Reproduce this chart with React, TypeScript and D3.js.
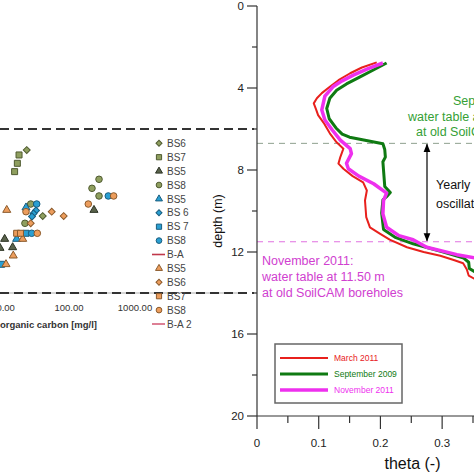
import React from "react";
import * as d3 from "d3";

// ---------- Right panel: soil moisture profiles (theta vs depth) ----------
const march2011: [number, number][] = [
  [0.194, 2.75], [0.170, 3.0], [0.151, 3.28], [0.132, 3.62], [0.118, 3.94], [0.105, 4.25],
  [0.097, 4.5], [0.092, 4.75], [0.096, 5.07], [0.099, 5.32], [0.108, 5.7], [0.118, 6.21],
  [0.129, 6.65], [0.140, 6.96], [0.135, 7.37], [0.132, 7.69], [0.140, 7.94], [0.155, 8.3],
  [0.172, 8.6], [0.178, 9.0], [0.175, 9.49], [0.177, 10.3], [0.183, 10.8], [0.199, 11.1],
  [0.215, 11.4], [0.243, 11.77], [0.270, 12.0], [0.297, 12.18], [0.320, 12.4], [0.334, 12.55],
  [0.340, 12.85], [0.343, 13.15], [0.352, 13.3], [0.40, 13.3],
];
const september2009: [number, number][] = [
  [0.210, 2.78], [0.190, 3.1], [0.167, 3.46], [0.145, 3.8], [0.129, 4.11], [0.118, 4.5],
  [0.113, 5.0], [0.117, 5.5], [0.128, 5.95], [0.138, 6.25], [0.150, 6.4], [0.175, 6.55],
  [0.204, 6.72], [0.207, 7.0], [0.208, 7.37], [0.204, 7.6], [0.205, 8.0], [0.207, 8.8],
  [0.216, 9.1], [0.210, 9.3], [0.204, 9.46], [0.202, 10.1], [0.205, 10.9], [0.225, 11.3],
  [0.253, 11.6], [0.302, 12.0], [0.335, 12.3], [0.343, 12.5], [0.344, 12.8], [0.352, 12.95],
  [0.40, 12.95],
];
const november2011: [number, number][] = [
  [0.204, 2.78], [0.180, 3.05], [0.156, 3.37], [0.138, 3.65], [0.123, 3.94], [0.110, 4.4],
  [0.105, 5.07], [0.110, 5.56], [0.122, 6.05], [0.135, 6.54], [0.151, 6.96], [0.153, 7.2],
  [0.145, 7.67], [0.148, 7.94], [0.165, 8.3], [0.189, 8.67], [0.210, 9.13], [0.205, 9.49],
  [0.204, 10.14], [0.210, 10.79], [0.230, 11.2], [0.253, 11.4], [0.275, 11.77], [0.324, 12.13],
  [0.355, 12.3], [0.40, 12.4],
];
const depthMajorTicks = [0, 4, 8, 12, 16, 20];
const depthMinorTicks = [2, 6, 10, 14, 18];
const thetaMajorTicks = [0, 0.1, 0.2, 0.3];
const thetaMinorTicks = [0.05, 0.15, 0.25, 0.35];
const waterTableSep2009 = 6.7;
const waterTableNov2011 = 11.5;
const profileSeries = [
  { name: "March 2011", color: "#e8201c", width: 2, data: march2011 },
  { name: "September 2009", color: "#0f7a12", width: 3, data: september2009 },
  { name: "November 2011", color: "#ee30ee", width: 3.5, data: november2011 },
];

// ---------- Left panel: organic carbon scatter (cropped) ----------
const carbonTicks = [10, 100, 1000];
const leftWaterLines = [2, 14];
// [organic carbon mg/l, depth]
const bs6Green: [number, number][] = [[22.9, 3.54], [40.0, 8.37]];
const bs7Green: [number, number][] = [[17.5, 3.9], [16.5, 4.51], [15.0, 5.12]];
const bs5Dark: [number, number][] = [[239, 7.93], [10.6, 10.05], [14.0, 10.66], [9.0, 10.71]];
const bs8Green: [number, number][] = [[285, 5.68], [223, 6.34], [285, 6.9], [26.3, 7.49], [21.5, 8.9]];
const bs5Blue: [number, number][] = [[22.3, 7.75], [16.1, 10.05]];
const bs6Blue: [number, number][] = [[31.6, 7.96], [29.0, 8.18], [27.5, 8.4]];
const bs7Blue: [number, number][] = [[22.3, 9.63], [9.56, 11.9]];
const bs8Blue: [number, number][] = [[394, 6.9], [32.4, 7.49], [27.2, 9.63]];
const bs5Orange: [number, number][] = [[11.4, 7.93], [19.9, 10.05], [14.3, 11.27], [11.1, 11.9]];
const bs6Orange: [number, number][] = [[54.7, 8.05], [83.1, 8.37], [26.3, 8.9]];
const bs7Orange: [number, number][] = [[16.1, 9.63], [18.4, 9.63]];
const bs8Orange: [number, number][] = [[475, 6.9], [196, 7.49], [22.3, 8.05], [33.1, 9.63]];

const OLIVE = { fill: "#8f9f5f", stroke: "#4f5a30" };
const DARK = { fill: "#59624b", stroke: "#2c3324" };
const BLUE = { fill: "#2a9fd2", stroke: "#1a5d7e" };
const ORANGE = { fill: "#ec9d5d", stroke: "#8b5a2b" };

const scatterSeries = [
  { label: "BS6", shape: "diamond", c: OLIVE, data: bs6Green },
  { label: "BS7", shape: "square", c: OLIVE, data: bs7Green },
  { label: "BS5", shape: "triangle", c: DARK, data: bs5Dark },
  { label: "BS8", shape: "circle", c: OLIVE, data: bs8Green },
  { label: "BS5", shape: "triangle", c: BLUE, data: bs5Blue },
  { label: "BS 6", shape: "diamond", c: BLUE, data: bs6Blue },
  { label: "BS 7", shape: "square", c: BLUE, data: bs7Blue },
  { label: "BS8", shape: "circle", c: BLUE, data: bs8Blue },
  { label: "B-A", line: "#c0384a" },
  { label: "BS5", shape: "triangle", c: ORANGE, data: bs5Orange },
  { label: "BS6", shape: "diamond", c: ORANGE, data: bs6Orange },
  { label: "BS7", shape: "square", c: ORANGE, data: bs7Orange },
  { label: "BS8", shape: "circle", c: ORANGE, data: bs8Orange },
  { label: "B-A 2", line: "#d5607a" },
] as any[];

const FONT = "'Liberation Sans', Arial, Helvetica, sans-serif";

function markerPath(shape: string, legend: boolean) {
  const k = legend ? 0.75 : 1;
  if (shape === "square") return d3.symbol(d3.symbolSquare, 36 * k)()!;
  if (shape === "circle") return d3.symbol(d3.symbolCircle, 34 * k)()!;
  if (shape === "triangle") return d3.symbol(d3.symbolTriangle, 28 * k)()!;
  return d3.symbol(d3.symbolSquare, 24 * k)()!;
}
function markerRot(shape: string) {
  return shape === "diamond" ? " rotate(45)" : "";
}

export default function App() {
  const x = d3.scaleLinear().domain([0, 0.35]).range([257, 473]);
  const y = d3.scaleLinear().domain([0, 20]).range([6, 416]);
  const xL = d3.scaleLog().domain([10, 1000]).range([3, 135]);
  const yL = d3.scaleLinear().domain([2, 14]).range([129, 293]);
  const line = d3
    .line<[number, number]>()
    .x((d) => x(d[0]))
    .y((d) => y(d[1]))
    .curve(d3.curveLinear);

  const legendY0 = 143.3;
  const legendStep = 13.9;

  return (
    <svg
      width={474}
      height={474}
      style={{ position: "absolute", left: 0, top: 0, background: "#fff" }}
      fontFamily={FONT}
    >
      <rect x={0} y={0} width={474} height={474} fill="#fff" />
      <defs>
        <clipPath id="rightClip">
          <rect x={257} y={0} width={217} height={416} />
        </clipPath>
        <marker id="arrowHead" viewBox="0 0 10 10" refX={9} refY={5} markerWidth={7} markerHeight={7} orient="auto-start-reverse">
          <path d="M0,1 L10,5 L0,9 Z" fill="#000" />
        </marker>
      </defs>

      {/* ---------------- Left cropped scatter chart ---------------- */}
      <line x1={0} x2={245} y1={yL(14)} y2={yL(14)} stroke="#c8c8c8" strokeWidth={1.5} />
      {leftWaterLines.map((v) => (
        <line key={v} x1={0} x2={254} y1={yL(v)} y2={yL(v)} stroke="#333" strokeWidth={2} strokeDasharray="9,5" />
      ))}
      {carbonTicks.map((t) => (
        <text key={t} x={xL(t)} y={311} fontSize={9.5} fill="#333" textAnchor="middle">
          {t.toFixed(2)}
        </text>
      ))}
      <text x={97} y={328} fontSize={9.5} fontWeight="bold" fill="#333" textAnchor="end">
        Dissolved organic carbon [mg/l]
      </text>
      {scatterSeries
        .filter((s) => s.data)
        .map((s, i) =>
          s.data.map((d: [number, number], j: number) => (
            <path
              key={`${i}-${j}`}
              d={markerPath(s.shape, false)}
              transform={`translate(${xL(d[0])},${yL(d[1])})${markerRot(s.shape)}`}
              fill={s.c.fill}
              stroke={s.c.stroke}
              strokeWidth={1}
            />
          ))
        )}
      {/* left legend */}
      {scatterSeries.map((s, i) => {
        const ly = legendY0 + i * legendStep;
        return (
          <g key={i}>
            {s.line ? (
              <line x1={152} x2={165} y1={ly} y2={ly} stroke={s.line} strokeWidth={1.6} />
            ) : (
              <path
                d={markerPath(s.shape, true)}
                transform={`translate(159,${ly})${markerRot(s.shape)}`}
                fill={s.c.fill}
                stroke={s.c.stroke}
                strokeWidth={1}
              />
            )}
            <text x={167} y={ly + 3.6} fontSize={10} fill="#444">
              {s.label}
            </text>
          </g>
        );
      })}

      {/* ---------------- Right chart ---------------- */}
      <line x1={257} x2={474} y1={y(waterTableSep2009)} y2={y(waterTableSep2009)} stroke="#8ea08e" strokeWidth={1} strokeDasharray="6,5" />
      <line x1={257} x2={474} y1={y(waterTableNov2011)} y2={y(waterTableNov2011)} stroke="#e070e0" strokeWidth={1} strokeDasharray="6,5" />

      <g clipPath="url(#rightClip)">
        {profileSeries.map((s) => (
          <path key={s.name} d={line(s.data)!} fill="none" stroke={s.color} strokeWidth={s.width} strokeLinejoin="round" />
        ))}
      </g>

      <line
        x1={427}
        x2={427}
        y1={y(waterTableSep2009) + 1}
        y2={y(waterTableNov2011) - 1}
        stroke="#000"
        strokeWidth={1.2}
        markerStart="url(#arrowHead)"
        markerEnd="url(#arrowHead)"
      />
      <text x={436} y={188.5} fontSize={12.5} fill="#111">Yearly</text>
      <text x={436} y={207.5} fontSize={12.5} fill="#111">oscillation</text>

      <g fontSize={12.5} fill="#35a035">
        <text x={453} y={104.5}>September 2009:</text>
        <text x={408} y={120.5}>water table at 6.70 m</text>
        <text x={416} y={136}>at old SoilCAM boreholes</text>
      </g>
      <g fontSize={12.5} fill="#d040d0">
        <text x={262} y={264.5}>November 2011:</text>
        <text x={262} y={280.5}>water table at 11.50 m</text>
        <text x={262} y={296.5}>at old SoilCAM boreholes</text>
      </g>

      <line x1={257} x2={257} y1={y(0)} y2={y(20)} stroke="#333" strokeWidth={1.2} />
      <line x1={257} x2={474} y1={y(20)} y2={y(20)} stroke="#333" strokeWidth={1.2} />
      {depthMajorTicks.map((t) => (
        <g key={t}>
          <line x1={247} x2={257} y1={y(t)} y2={y(t)} stroke="#333" strokeWidth={1.2} />
          <text x={244} y={y(t) + 4} fontSize={11.5} fill="#222" textAnchor="end">
            {t}
          </text>
        </g>
      ))}
      {depthMinorTicks.map((t) => (
        <line key={t} x1={252} x2={257} y1={y(t)} y2={y(t)} stroke="#333" strokeWidth={1.2} />
      ))}
      {thetaMajorTicks.map((t) => (
        <g key={t}>
          <line x1={x(t)} x2={x(t)} y1={416} y2={429} stroke="#333" strokeWidth={1.2} />
          <text x={x(t)} y={447} fontSize={11.5} fill="#222" textAnchor="middle">
            {t === 0 ? "0" : t.toString()}
          </text>
        </g>
      ))}
      {thetaMinorTicks.map((t) => (
        <line key={t} x1={x(t)} x2={x(t)} y1={416} y2={423} stroke="#333" strokeWidth={1.2} />
      ))}
      <text x={412.5} y={469} fontSize={16} fill="#111" textAnchor="middle">
        theta (-)
      </text>
      <text transform="translate(222,221) rotate(-90)" fontSize={12.5} fill="#111" textAnchor="middle">
        depth (m)
      </text>

      <rect x={275} y={344} width={127} height={59} fill="#fff" stroke="#666" strokeWidth={1.5} />
      {profileSeries.map((s, i) => {
        const ly = 358 + i * 16;
        return (
          <g key={s.name}>
            <line x1={280} x2={328} y1={ly} y2={ly} stroke={s.color} strokeWidth={s.width} />
            <text x={334} y={ly + 3} fontSize={8.5} fill={s.color}>
              {s.name}
            </text>
          </g>
        );
      })}
    </svg>
  );
}
